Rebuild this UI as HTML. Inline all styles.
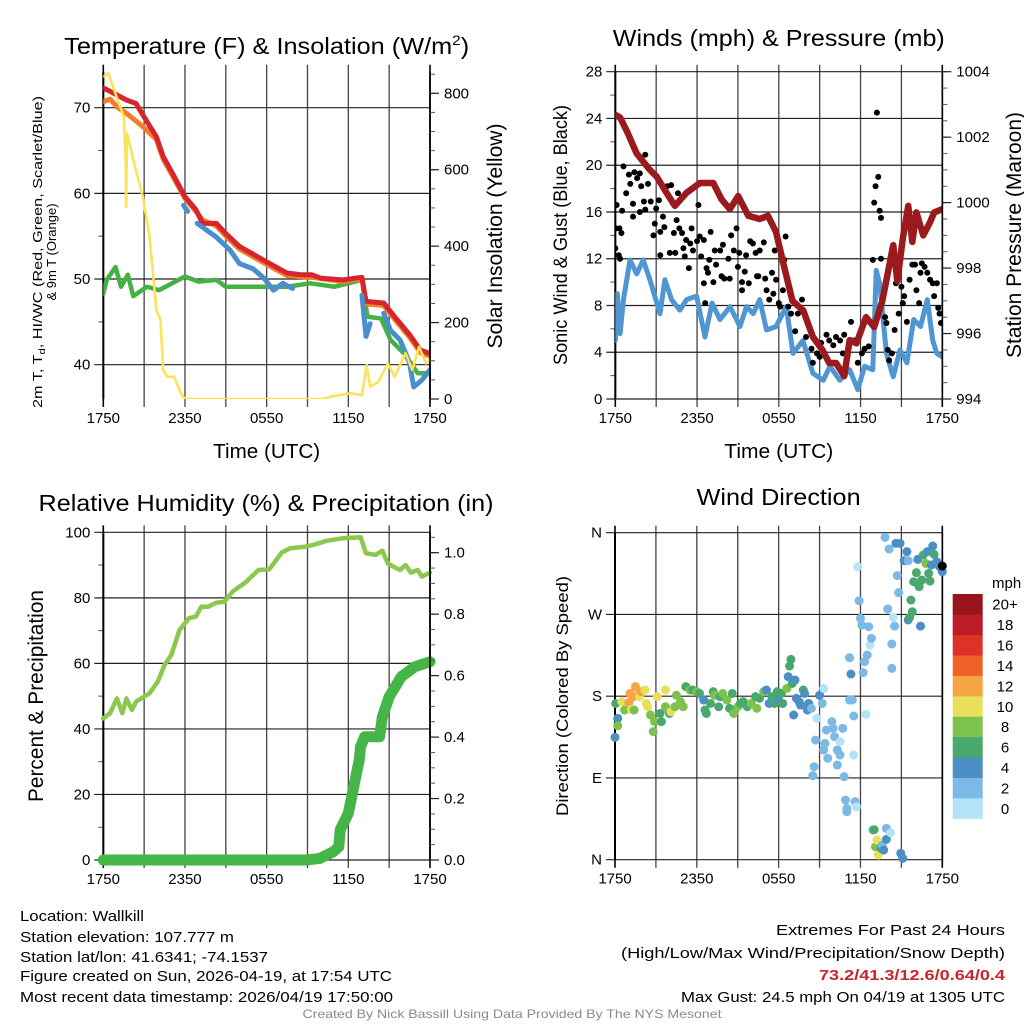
<!DOCTYPE html>
<html><head><meta charset="utf-8"><title>NYS Mesonet Meteogram - Wallkill</title>
<style>
html,body{margin:0;padding:0;background:#fff;}
svg{display:block;font-family:"Liberation Sans",Arial,sans-serif;}
</style></head>
<body>
<svg id="fig" width="1024" height="1024" viewBox="0 0 1024 1024" xmlns="http://www.w3.org/2000/svg">
<rect x="0" y="0" width="1024" height="1024" fill="#fff"/>
<defs>
<clipPath id="c1"><rect x="103.3" y="71.7" width="326.7" height="327.3"/></clipPath>
<clipPath id="c2"><rect x="615.3" y="71.7" width="327" height="327.3"/></clipPath>
<clipPath id="c3"><rect x="96" y="527" width="340" height="341"/></clipPath>
<clipPath id="c4"><rect x="608" y="526" width="342" height="340"/></clipPath>
</defs>

<text x="266.7" y="54" font-size="23" text-anchor="middle" textLength="405" lengthAdjust="spacingAndGlyphs">Temperature (F) &amp; Insolation (W/m<tspan font-size="14" dy="-9">2</tspan><tspan dy="9">)</tspan></text>
<text x="778.8" y="46" font-size="23" text-anchor="middle" textLength="332" lengthAdjust="spacingAndGlyphs">Winds (mph) &amp; Pressure (mb)</text>
<text x="266" y="511" font-size="23" text-anchor="middle" textLength="455" lengthAdjust="spacingAndGlyphs">Relative Humidity (%) &amp; Precipitation (in)</text>
<text x="778.6" y="505" font-size="23" text-anchor="middle" textLength="164" lengthAdjust="spacingAndGlyphs">Wind Direction</text>

<text x="266.7" y="458" font-size="20" text-anchor="middle" textLength="107" lengthAdjust="spacingAndGlyphs">Time (UTC)</text>
<text x="778.8" y="458" font-size="20" text-anchor="middle" textLength="109" lengthAdjust="spacingAndGlyphs">Time (UTC)</text>
<text transform="translate(42,252) rotate(-90)" font-size="13" text-anchor="middle" textLength="312" lengthAdjust="spacingAndGlyphs">2m T, T<tspan font-size="9" dy="3">d</tspan><tspan dy="-3">, HI/WC (Red, Green, Scarlet/Blue)</tspan></text>
<text transform="translate(56,252) rotate(-90)" font-size="13" text-anchor="middle">&amp; 9m T (Orange)</text>
<text transform="translate(502,236) rotate(-90)" font-size="21" text-anchor="middle" textLength="225" lengthAdjust="spacingAndGlyphs">Solar Insolation (Yellow)</text>
<text transform="translate(567,235) rotate(-90)" font-size="19" text-anchor="middle" textLength="260" lengthAdjust="spacingAndGlyphs">Sonic Wind &amp; Gust (Blue, Black)</text>
<text transform="translate(1021,235) rotate(-90)" font-size="21" text-anchor="middle" textLength="246" lengthAdjust="spacingAndGlyphs">Station Pressure (Maroon)</text>
<text transform="translate(43,696) rotate(-90)" font-size="21" text-anchor="middle" textLength="212" lengthAdjust="spacingAndGlyphs">Percent &amp; Precipitation</text>
<text transform="translate(568,696) rotate(-90)" font-size="17" text-anchor="middle" textLength="240" lengthAdjust="spacingAndGlyphs">Direction (Colored By Speed)</text>

<g id="plots"></g>

<text x="992" y="588" font-size="15">mph</text>
<g id="colorbar"></g>

<g font-size="15" fill="#000">
<text x="20" y="921" textLength="124" lengthAdjust="spacingAndGlyphs">Location: Wallkill</text>
<text x="20" y="942" textLength="214" lengthAdjust="spacingAndGlyphs">Station elevation: 107.777 m</text>
<text x="20" y="962" textLength="248" lengthAdjust="spacingAndGlyphs">Station lat/lon: 41.6341; -74.1537</text>
<text x="20" y="981" textLength="372" lengthAdjust="spacingAndGlyphs">Figure created on Sun, 2026-04-19, at 17:54 UTC</text>
<text x="20" y="1002" textLength="373" lengthAdjust="spacingAndGlyphs">Most recent data timestamp: 2026/04/19 17:50:00</text>
</g>
<g font-size="15" text-anchor="end">
<text x="1005" y="935" textLength="229" lengthAdjust="spacingAndGlyphs">Extremes For Past 24 Hours</text>
<text x="1005" y="958" textLength="384" lengthAdjust="spacingAndGlyphs">(High/Low/Max Wind/Precipitation/Snow Depth)</text>
<text x="1005" y="980" fill="#c8262b" font-weight="bold" textLength="186" lengthAdjust="spacingAndGlyphs">73.2/41.3/12.6/0.64/0.4</text>
<text x="1005" y="1002" textLength="324" lengthAdjust="spacingAndGlyphs">Max Gust: 24.5 mph On 04/19 at 1305 UTC</text>
</g>
<text x="512" y="1018" font-size="12" fill="#8a8a8a" text-anchor="middle" textLength="419" lengthAdjust="spacingAndGlyphs">Created By Nick Bassill Using Data Provided By The NYS Mesonet</text>
</svg>

<script>
// ---------- DATA (hours since 1750 UTC) ----------
const timeLabels = ['1750','2350','0550','1150','1750'];

// Temperature panel
const tRedT = [0,0.5,1.7,2.4,3.2,3.9,4.4,5.1,6,6.8,7.3,8.3,9,10,12,13.5,14.5,15.3,16,17.6,19,19.3,20.6,21.3,22.5,23.3,24];
const redT  = [72.3,71.9,70.9,70.5,68.4,66.6,64.3,62.3,59.6,58.1,56.5,56.5,55.3,53.8,52.0,50.7,50.5,50.5,50.1,49.9,50.2,47.4,47.2,45.8,43.5,41.7,41.3];
const tOrange = [0,0.5,1.0,1.9,2.9,3.9,4.4,5.1,6,6.8,7.3,8.3,9,10,12,13.5,15.3,17.6,19,19.3,20.6,21.3,22.5,23.3,24];
const orangeT = [70.7,71.0,70.1,69.1,67.8,66.3,64.0,62.0,59.4,57.9,56.9,56.2,55.0,53.5,51.7,50.4,50.2,49.7,50.0,47.1,46.9,45.5,43.2,41.4,41.0];
const tGreen = [0,0.25,0.9,1.3,1.8,2.2,3.2,4.1,6,7,8.3,9,12,13.5,15.2,17,19,19.4,20.4,21.1,22.1,23.1,24];
const greenT = [48.3,49.9,51.4,49.1,50.5,48.0,49.1,48.7,50.3,49.7,49.9,49.1,49.1,49.1,49.5,49.1,49.9,45.6,45.4,42.9,41.3,39.0,39.0];
const tBlue = [5.9,6.2,null,6.9,8.3,9.3,10,11,11.8,12.5,13.2,13.9,null,19,19.3,19.6,null,20.6,21.1,21.8,22.5,22.8,23.4,24];
const blueT = [58.6,57.9,null,56.5,54.9,53.4,51.8,51.2,50.1,48.7,49.5,48.9,null,48.1,43.3,44.8,null,46.0,44.0,42.9,40.2,37.4,38.2,39.4];
const tSolar = [0,0.37,0.7,1.5,1.65,1.67,1.75,2.2,2.9,3.4,3.9,4.2,4.4,4.7,5.2,5.7,6,16,16.7,18.2,19.0,19.35,19.6,20.2,20.9,21.4,22.2,22.7,23.2,23.7,24];
const solar = [844,853,818,739,620,503,695,626,530,425,233,207,76,58,58,15,0,0,6,15,10,89,32,45,93,58,120,76,137,93,102];
const tempLeftTicks = [40,50,60,70];
const tempMinorTicks = [45,55,65];
const solarTicks = [0,200,400,600,800];

// Winds panel
const tWind = [0,0.15,0.35,0.6,1.08,1.57,2.05,2.54,2.9,3.28,3.64,4.13,4.74,5.23,5.97,6.58,7.1,7.68,8.42,9.15,9.63,10.12,10.6,11.1,11.8,12.55,13.04,13.77,14.5,15.26,15.75,16.48,17.2,17.8,18.3,18.9,19.15,19.4,19.9,20.4,20.9,21.4,21.9,22.4,22.9,23.3,23.6,24];
const windSpd = [5.0,9.0,5.6,8.5,11.9,10.7,11.9,10.2,8.8,7.3,10.2,8.5,7.6,8.5,8.8,5.3,8.2,6.8,7.9,6.2,7.9,7.3,8.5,5.9,6.2,7.9,3.9,5.0,2.2,1.6,2.8,1.6,2.5,0.8,2.8,2.5,11.0,9.9,3.9,1.9,4.2,3.1,6.8,6.2,8.5,5.0,3.9,3.6];
const tGust = [0,0.1,0.05,0.3,0.25,0.35,0.45,0.6,0.5,0.8,1.0,1.1,1.3,1.3,1.4,1.6,1.8,1.8,1.9,2.2,2.1,2.2,2.4,2.6,2.8,2.9,3.0,3.2,3.3,3.3,3.5,3.6,3.8,4.0,4.1,4.3,4.4,4.5,4.6,4.7,4.9,5.0,5.1,5.2,5.4,5.5,5.6,5.7,6.0,6.1,6.2,6.3,6.5,6.5,6.6,6.7,6.8,6.9,7.0,7.2,7.3,7.4,7.7,7.8,7.9,8.0,8.3,8.4,8.5,8.7,8.9,9.0,9.1,9.3,9.3,9.5,9.6,9.8,9.9,10.1,10.3,10.4,10.5,10.6,10.9,11.0,11.1,11.3,11.5,11.6,11.7,11.8,12.0,12.1,12.3,12.4,12.5,12.7,12.9,13.2,13.4,13.7,13.8,14.0,14.4,14.5,14.8,15.0,15.1,15.5,15.7,16.0,16.2,16.5,16.7,16.8,17.3,17.5,17.8,18.1,18.3,18.6,18.9,19.0,19.1,19.2,19.3,19.4,19.5,19.5,19.8,19.9,20.0,20.1,20.3,20.5,20.6,20.8,21.0,21.1,21.2,21.4,21.6,21.8,22.0,22.1,22.3,22.4,22.5,22.7,22.9,23.1,23.3,23.4,23.6,23.7,23.8,23.9];
const gust = [12.9,16.6,14.6,14.6,12.3,12.0,14.2,19.9,16.1,17.6,19.2,18.4,16.7,15.6,19.4,18.9,19.3,16.0,18.2,20.9,16.9,16.2,18.4,16.9,14.0,15.0,16.3,17.0,14.3,12.3,15.6,14.7,18.2,12.5,18.3,14.2,12.5,15.3,17.6,14.6,14.2,12.9,12.2,13.6,11.2,13.3,14.6,12.7,13.5,16.6,13.9,12.2,9.9,13.6,8.2,11.2,10.8,11.9,14.3,10.0,12.7,11.5,12.7,10.5,13.2,10.3,12.0,10.3,14.0,12.7,14.6,11.3,12.5,10.0,9.3,10.9,12.3,9.9,13.5,13.3,12.5,10.5,10.5,12.7,13.4,10.3,9.3,8.5,10.8,9.0,12.7,10.2,8.2,7.9,9.3,11.9,13.9,7.9,7.3,5.8,7.3,8.5,7.6,5.3,4.3,3.1,3.9,3.6,4.8,5.5,5.0,4.6,5.3,5.0,3.9,5.5,6.6,5.0,3.1,3.9,4.3,4.5,11.9,16.8,18.2,24.5,19.0,16.1,15.5,12.0,7.0,6.5,4.2,3.3,3.9,5.9,9.9,7.3,9.6,8.2,8.8,6.6,10.2,11.5,11.5,9.3,8.2,10.8,11.6,11.3,10.8,10.2,9.9,8.8,9.9,7.8,7.3,6.5];
const tPres = [0,0.35,0.83,1.57,2.54,3.03,3.76,4.37,5.23,6.21,7.19,7.8,8.41,9.02,9.76,10.6,11.2,11.8,12.3,13.0,13.8,14.5,15.2,15.7,16.2,16.8,17.2,17.7,18.4,19.0,19.6,20.4,20.7,21.1,21.5,21.8,22.1,22.6,23.1,23.4,24];
const pressure = [1002.68,1002.6,1002.2,1001.5,1001.0,1000.8,1000.3,999.9,1000.3,1000.6,1000.6,1000.1,999.8,1000.2,999.6,999.5,999.6,999.1,998.2,997.0,996.7,995.9,995.5,995.1,995.1,994.7,995.8,995.7,996.5,996.2,997.0,998.7,997.6,998.9,999.9,998.8,999.7,999.0,999.4,999.7,999.8];
const windTicks = [0,4,8,12,16,20,24,28];
const windMinorTicks = [2,6,10,14,18,22,26];
const presTicks = [994,996,998,1000,1002,1004];

// Humidity panel
const tRH = [0,0.5,1.0,1.4,1.7,2.1,2.4,3.4,4.0,4.5,5.0,5.6,6.3,6.8,7.2,7.7,8.3,8.9,9.5,10.5,11.4,12.2,13.1,13.7,14.8,15.4,16.4,17.6,18.9,19.3,20.0,20.5,20.9,21.4,21.8,22.2,22.6,23.1,23.4,24];
const rh = [43.2,44.8,49.3,44.8,49.3,45.8,48.3,50.9,54.4,59.5,62.6,70.2,73.8,74.3,77.3,77.3,78.5,78.8,81.9,84.9,88.5,88.7,93.8,95.1,95.6,96.1,97.4,98.2,98.5,93.6,93.1,94.4,90.5,89.3,88.5,90.0,87.7,88.5,86.5,87.7];
const tPrecip = [0,14.9,15.9,16.9,17.3,17.4,18.0,18.4,18.8,18.9,19.2,20.3,20.5,21.0,21.9,22.9,24];
const precip = [0,0,0.005,0.027,0.043,0.098,0.152,0.239,0.325,0.369,0.401,0.401,0.466,0.531,0.597,0.629,0.645];
const rhTicks = [0,20,40,60,80,100];
const rhMinorTicks = [10,30,50,70,90];
const precipTicks = [0,0.2,0.4,0.6,0.8,1.0];

// Wind direction panel
const tDir = [0,0.2,0.2,0.05,0.5,0.7,1.0,1.1,1.3,1.5,1.7,1.8,1.9,2.2,2.3,1.2,1.4,2.4,2.6,2.8,2.9,3.1,3.3,3.4,3.7,3.7,3.9,4.0,4.1,4.4,4.5,4.8,5.0,5.2,5.5,5.7,6.0,6.2,6.5,6.6,6.7,7.0,7.2,7.3,7.6,7.7,7.9,8.2,8.4,8.6,8.7,9.0,9.2,9.4,9.7,10.0,10.3,10.4,10.6,10.9,11.1,11.3,11.5,11.7,11.9,12.0,12.2,12.3,12.6,12.7,12.8,12.9,13.0,13.1,13.2,13.3,13.5,13.6,13.8,13.9,14.1,14.2,14.4,14.7,14.6,14.5,14.8,15.0,15.2,15.3,15.4,15.5,15.3,15.6,15.9,16.0,16.1,16.3,16.3,16.5,16.5,16.7,16.8,16.9,17.0,17.0,17.2,17.2,17.3,17.4,17.5,17.5,17.6,17.7,17.8,17.9,18.0,18.1,18.2,18.3,18.4,18.5,18.6,18.7,18.8,18.9,19.0,19.1,19.2,19.3,19.5,19.6,19.7,19.8,19.9,19.9,20.1,20.0,20.2,20.3,20.3,20.5,20.4,20.6,20.7,20.8,20.9,20.95,21.1,21.2,21.4,21.5,21.5,21.6,21.7,21.8,21.9,22.1,22.2,22.3,22.4,22.5,22.6,22.8,22.9,23.0,23.1,23.2,23.3,23.4,23.6,23.8,24.0,24.0];
const dirDeg = [134.7,155.6,147.5,172,174,164.8,172.8,183,179,190.5,181,179.5,185,186.8,172,165.5,164.8,168.4,159.3,141,152,179.5,161,152,186.8,168.4,164.8,161,163,168.4,181,174,168.4,190.5,186.8,186.8,185,183,175.8,164.8,161,172,185,181,168.4,179.5,183,175.8,166.6,183,161,168.4,172,174,168.4,172,179.5,166.6,177.6,185,186.8,172,179.5,172,185,175.8,183,172,188.6,201.5,213.2,220.5,194,159.3,197.8,177.6,174,170.3,186.8,183,164.8,172,166.6,131.7,102.4,92.5,155.6,181,172,188.6,128,142.8,120.7,111.6,152,144.6,135.4,120.7,104.2,115.2,130,144.6,91.4,65.7,52.8,56.5,175.8,222.4,204.4,175.8,158.2,115.2,63.9,58.3,322.6,285.1,265.7,258.3,205.9,218,160,225.3,256.5,236.3,243.7,32.7,33,14.3,21.7,5.1,12.5,16.1,10.6,354.9,34.5,22.4,342,276,29.7,237.4,210.6,257.2,266.8,348.3,312.7,294,348.3,7,1.5,329.2,339.1,329.2,263.9,266.8,285.9,273,306,316,330.6,300.6,257.2,307.9,335.4,326.2,339.1,315.2,306.8,324.4,345.3,336.1,328.1,322.6,317.1,323.3];
const dirSpd = [5,5,9,7,11,9,13,13,13,13,13,11,13,11,11,11,9,11,9,9,9,11,7,7,11,9,9,7,11,9,9,9,9,7,9,7,9,7,5,7,7,7,7,9,7,7,9,9,7,7,9,9,7,7,7,9,7,9,7,9,5,5,7,7,7,5,7,7,9,5,7,7,7,5,5,5,5,5,7,5,5,5,3,3,3,3,1,5,3,1,3,3,3,3,3,3,3,3,3,3,1,3,3,3,3,3,3,3,5,3,3,1,3,1,1,3,3,3,3,3,1,3,3,1,3,3,7,9,11,11,7,3,5,3,3,5,3,3,1,3,3,3,1,5,3,3,5,5,5,5,5,3,5,7,7,7,7,7,5,7,5,7,7,9,5,7,7,5,5,7,5,5,5];
const dirTicks = [0,90,180,270,360];
const dirTickLabels = ['N','E','S','W','N'];
const speedBins = ['0','2','4','6','8','10','12','14','16','18','20+'];
const speedColors = ['#b4e3f7','#7cb9e5','#4b8fc5','#49a86e','#7dc24d','#e8e05a','#f7a445','#f0622a','#dd3228','#bc1c25','#98161b'];

// ---------- RENDERING ----------
const NS = 'http://www.w3.org/2000/svg';
const root = document.getElementById('plots');
function mk(tag, attrs, parent) {
  const el = document.createElementNS(NS, tag);
  for (const k in attrs) el.setAttribute(k, attrs[k]);
  (parent || root).appendChild(el);
  return el;
}
function scale(d0, d1, r0, r1) { return v => r0 + (v - d0) / (d1 - d0) * (r1 - r0); }

const panels = {
  p1: {L:103.3, R:430, T:71.7, B:399, clip:'c1'},
  p2: {L:615.3, R:942.3, T:71.7, B:399, clip:'c2'},
  p3: {L:103.3, R:430, T:532.3, B:860, clip:'c3'},
  p4: {L:615, R:942.3, T:532.7, B:859.7, clip:'c4'}
};
for (const k in panels) { const p = panels[k]; p.x = scale(0, 24, p.L, p.R); }

function frame(p, pname) {
  const g = mk('g', {});
  
  
  for (let h = 0; h <= 24; h += 3) {
    const xx = p.x(h);
    const ln = mk('line', {x1:xx, x2:xx, y1:p.T - 7, y2:p.B + 8, stroke:(h===0||h===24)?'#000':'#444', 'stroke-width':(h===0||h===24)?1.6:1.3}, g);
    
    
  }
  const lab = [0,6,12,18,24];
  lab.forEach((h, i) => {
    const t = mk('text', {x:p.x(h), y:p.B + 24, 'font-size':15, 'text-anchor':'middle'}, g);
    
    
    t.textContent = timeLabels[i];
  });
  return g;
}
function yAxisLeft(p, pname, sc, ticks, minor, labels) {
  const g = mk('g', {});
  
  
  ticks.forEach((v, i) => {
    const yy = sc(v);
    const ln = mk('line', {x1:p.L - 9, x2:p.R, y1:yy, y2:yy, stroke:'#222', 'stroke-width':1.2}, g);
    
    
    const t = mk('text', {x:p.L - 13, y:yy + 5, 'font-size':15, 'text-anchor':'end'}, g);
    
    
    t.textContent = labels ? labels[i] : String(v);
  });
  minor.forEach(v => {
    const yy = sc(v);
    const ln = mk('line', {x1:p.L - 5, x2:p.L, y1:yy, y2:yy, stroke:'#555', 'stroke-width':1}, g);
    
    
  });
  const ax = mk('line', {x1:p.L, x2:p.L, y1:p.T, y2:p.B, stroke:'#000', 'stroke-width':2}, g);
  
  
}
function yAxisRight(p, pname, sc, ticks, step, top, fmt) {
  const g = mk('g', {});
  
  
  const ax = mk('line', {x1:p.R, x2:p.R, y1:p.T, y2:p.B, stroke:'#000', 'stroke-width':1.6}, g);
  
  
  for (let v = ticks[0]; v <= top + 1e-9; v += step) {
    const yy = sc(v);
    if (yy < p.T - 0.5) break;
    const ln = mk('line', {x1:p.R, x2:p.R + 5, y1:yy, y2:yy, stroke:'#555', 'stroke-width':1}, g);
    
    
  }
  ticks.forEach(v => {
    const yy = sc(v);
    const ln = mk('line', {x1:p.R, x2:p.R + 9, y1:yy, y2:yy, stroke:'#222', 'stroke-width':1.2}, g);
    
    
    const t = mk('text', {x:p.R + 14, y:yy + 5, 'font-size':15}, g);
    
    
    t.textContent = fmt(v);
  });
}
function series(p, ts, vs, xs, ys, color, w, name, parent) {
  let d = '', pen = false;
  for (let i = 0; i < ts.length; i++) {
    if (ts[i] === null || vs[i] === null) { pen = false; continue; }
    d += (pen ? 'L' : 'M') + xs(ts[i]).toFixed(2) + ' ' + ys(vs[i]).toFixed(2);
    pen = true;
  }
  const el = mk('path', {d:d, fill:'none', stroke:color, 'stroke-width':w, 'stroke-linejoin':'round', 'stroke-linecap':'round', 'clip-path':'url(#' + p.clip + ')'}, parent);
  
  
  return el;
}
function dots(p, ts, vs, xs, ys, r, colorFn, name) {
  const g = mk('g', {'clip-path':'url(#' + p.clip + ')'});
  
  
  for (let i = 0; i < ts.length; i++) {
    const c = mk('circle', {cx:xs(ts[i]).toFixed(2), cy:ys(vs[i]).toFixed(2), r:r, fill:colorFn(i)}, g);
    
    
  }
}

// Panel 1
const P1 = panels.p1;
const yTemp = scale(40, 70, 364.7, 107.7);
const ySolar = scale(0, 800, 399, 93.3);
frame(P1, 'temperature');
yAxisLeft(P1, 'temperature', yTemp, tempLeftTicks, tempMinorTicks);
series(P1, tGreen, greenT, P1.x, yTemp, '#45b043', 4.5, 'dewpoint-line');
series(P1, tOrange, orangeT, P1.x, yTemp, '#f07f2c', 5, 'temp-9m-line');
series(P1, tRedT, redT, P1.x, yTemp, '#d7262b', 5, 'temp-2m-line');
series(P1, tBlue, blueT, P1.x, yTemp, '#4a8fcc', 5, 'heat-index-wind-chill-line');
series(P1, tSolar, solar, P1.x, ySolar, '#fbe35a', 2.6, 'solar-insolation-line');
yAxisRight(P1, 'solar', ySolar, solarTicks, 50, 850, v => String(v));

// Panel 2
const P2 = panels.p2;
const yWind = scale(0, 28, 399, 71.7);
const yPres = scale(994, 1004, 399, 71.7);
frame(P2, 'winds');
yAxisLeft(P2, 'winds', yWind, windTicks, windMinorTicks);
series(P2, tWind, windSpd, P2.x, yWind, '#4f96d2', 5, 'sonic-wind-line');
dots(P2, tGust, gust, P2.x, yWind, 3, () => '#000', 'gust-dot');
series(P2, tPres, pressure, P2.x, yPres, '#9b1a1d', 6.5, 'pressure-line');
yAxisRight(P2, 'pressure', yPres, presTicks, 0.5, 1004, v => String(v));

// Panel 3
const P3 = panels.p3;
const yRH = scale(0, 100, 860, 532.3);
const yPr = scale(0, 1, 860, 552.7);
frame(P3, 'humidity');
yAxisLeft(P3, 'humidity', yRH, rhTicks, rhMinorTicks);
series(P3, tRH, rh, P3.x, yRH, '#8cc84e', 4.5, 'relative-humidity-line');
series(P3, tPrecip, precip, P3.x, yPr, '#46b547', 11, 'precipitation-line');
yAxisRight(P3, 'precipitation', yPr, precipTicks, 0.05, 1.06, v => v.toFixed(1));

// Panel 4
const P4 = panels.p4;
const yDir = scale(0, 360, 859.7, 532.7);
frame(P4, 'wind-direction');
yAxisLeft(P4, 'wind-direction', yDir, dirTicks, [], dirTickLabels);
const rSpine = mk('line', {x1:P4.R, x2:P4.R, y1:P4.T, y2:P4.B, stroke:'#000', 'stroke-width':1.6});


dots(P4, tDir, dirDeg, P4.x, yDir, 4.5, i => speedColors[Math.min(10, Math.floor(dirSpd[i] / 2))], 'direction-dot');

// Colorbar
const cb = document.getElementById('colorbar');
const cbTop = 594, cbBot = 818.5, cbH = (cbBot - cbTop) / speedBins.length;
for (let i = 0; i < speedBins.length; i++) {
  const yy = cbBot - (i + 1) * cbH;
  const r = mk('rect', {x:952.7, y:yy.toFixed(2), width:30, height:(cbH + 0.3).toFixed(2), fill:speedColors[i]}, cb);
  
  
  const t = mk('text', {x:1005, y:(yy + cbH / 2 + 5.5).toFixed(2), 'font-size':15, 'text-anchor':'middle'}, cb);
  
  
  t.textContent = speedBins[i];
}
</script>
</body></html>
